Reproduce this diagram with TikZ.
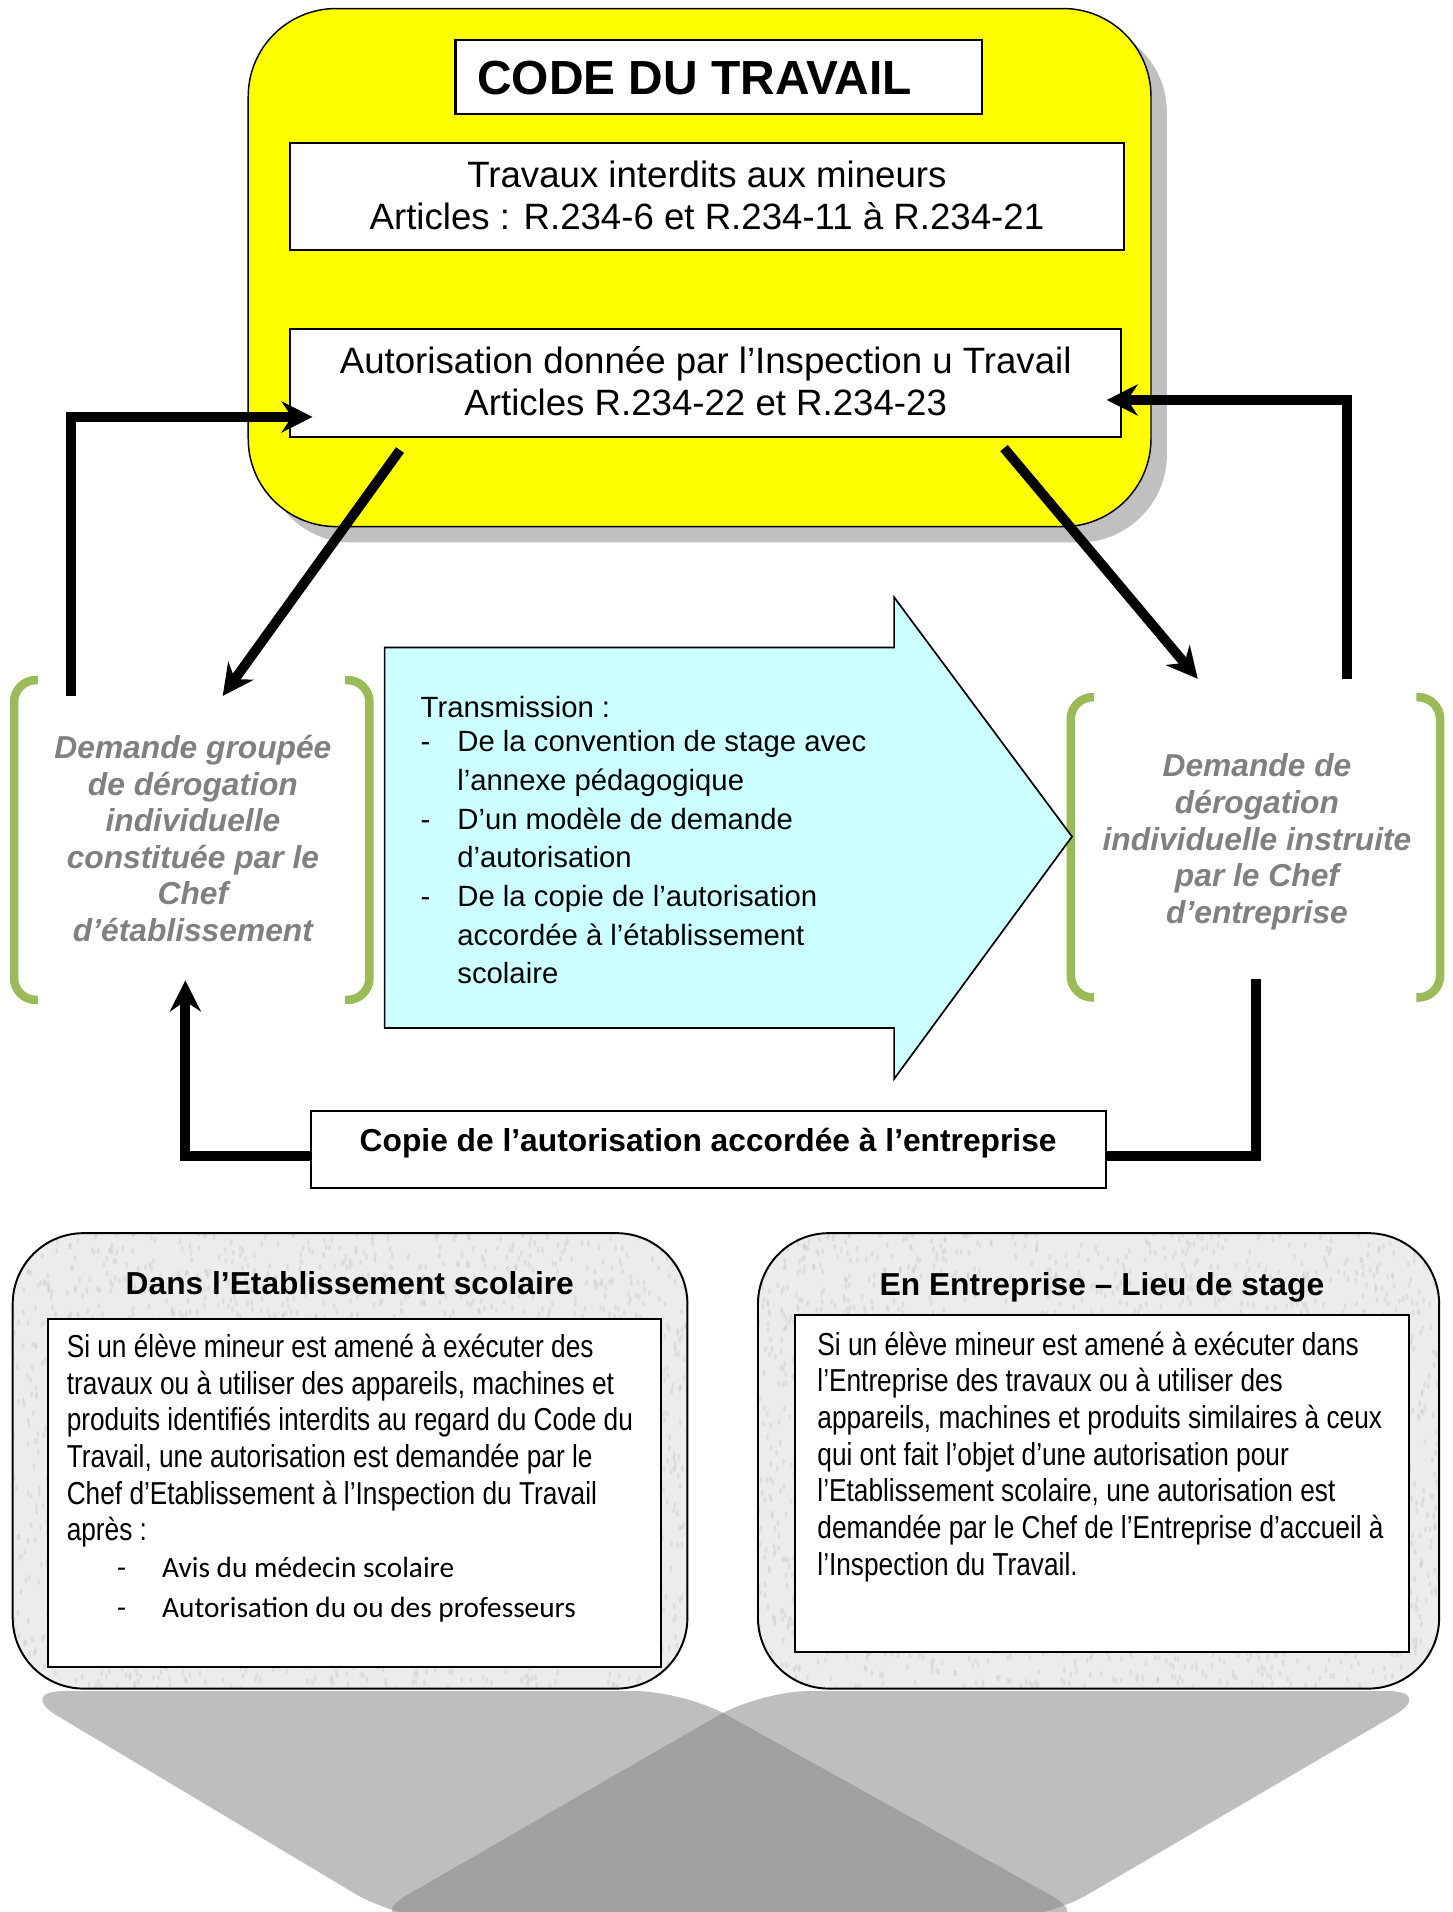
\documentclass[tikz,border=0pt]{standalone}
\usepackage{fontspec}
\setmainfont{Liberation Sans}
\newfontfamily\narrowfont{Liberation Sans}[FakeStretch=0.827]
\newfontfamily\carlfont{Carlito}
\usetikzlibrary{arrows.meta,shadows}
\definecolor{ybox}{RGB}{255,255,0}
\definecolor{shadowgray}{RGB}{192,192,192}
\definecolor{cyanbox}{RGB}{204,255,255}
\definecolor{brgreen}{RGB}{155,187,89}
\definecolor{txtgray}{RGB}{128,128,128}
\definecolor{bandlight}{RGB}{190,190,190}
\definecolor{banddark}{RGB}{160,160,160}
\definecolor{granite}{RGB}{236,236,236}
\definecolor{speck}{RGB}{200,200,200}
\begin{document}
\begin{tikzpicture}[x=0.5pt,y=-0.5pt,
  box/.style={draw=black, line width=0.8pt, fill=white, inner sep=0pt, outer sep=0pt},
  txt/.style={inner sep=0pt, outer sep=0pt},
  conn/.style={line width=4pt, line join=miter},
  tip/.style={-{Stealth[length=12.7pt,width=12.7pt,inset=4.2pt]}},
  bracket/.style={draw=brgreen, line width=3.5pt, rounded corners=9pt},
  graniteBox/.style={fill=granite, rounded corners=29pt, inner sep=0pt, outer sep=0pt},
  graniteEdge/.style={draw=black, line width=0.8pt, rounded corners=29pt},
  graytxt/.style={txt, anchor=base, align=center, text=txtgray, font=\bfseries\itshape\fontsize{13}{15}\selectfont}
]
\useasboundingbox (0,0) rectangle (1190,1566);
\pgfmathsetseed{12345}

% bottom shadow bands
\begin{scope}
  \clip (0,0) rectangle (1190,1566);
  \fill[bandlight, rounded corners=20pt] (13,1385) -- (560,1385) -- (896,1572) -- (326,1572) -- cycle;
  \fill[bandlight, rounded corners=20pt] (623,1385) -- (1176,1385) -- (856,1572) -- (299,1572) -- cycle;
  \clip[rounded corners=20pt] (13,1385) -- (560,1385) -- (896,1572) -- (326,1572) -- cycle;
  \fill[banddark, rounded corners=20pt] (623,1385) -- (1176,1385) -- (856,1572) -- (299,1572) -- cycle;
\end{scope}

% yellow code box
\node[draw=black, line width=0.6pt, fill=ybox, rounded corners=36pt,
  minimum width=369.7pt, minimum height=212.15pt, inner sep=0pt,
  drop shadow={shadow xshift=6.5pt, shadow yshift=-6.5pt, fill=shadowgray, opacity=1}]
  (code) at (573,219.15) {};
\node[box, line width=1pt, minimum width=215.65pt, minimum height=30.4pt] (codebox) at (588.65,63.2) {};
\node[txt, anchor=base west, font=\bfseries\fontsize{19.6}{23}\selectfont] (codetxt) at (391,77.8) {CODE DU TRAVAIL};

\node[box, minimum width=341.55pt, minimum height=43.9pt] (travbox) at (579.15,160.8) {};
\node[txt, anchor=base, align=center, font=\fontsize{15}{17.2}\selectfont] (travtxt) at (579,188)
  {Travaux interdits aux mineurs\\Articles : R.234-6 et R.234-11 à R.234-21};

\node[box, minimum width=340.2pt, minimum height=44.35pt] (autbox) at (577.8,313.95) {};
\node[txt, anchor=base, align=center, font=\fontsize{15}{17.2}\selectfont] (auttxt) at (578,340)
  {Autorisation donnée par l’Inspection u Travail\\Articles R.234-22 et R.234-23};

% green brackets
\draw[bracket] (31,557) -| (11.5,819) -- (31,819);
\draw[bracket] (282.6,557) -| (302.6,819) -- (282.6,819);
\draw[bracket] (896,571) -| (877,817) -- (896,817);
\draw[bracket] (1160,571) -| (1179.5,817) -- (1160,817);

\node[graytxt] (grp) at (158,771.2)
  {Demande groupée\\de dérogation\\individuelle\\constituée par le\\Chef\\d’établissement};
\node[graytxt] (ins) at (1029.5,756.2)
  {Demande de\\dérogation\\individuelle instruite\\par le Chef\\d’entreprise};

% cyan block arrow
\draw[line width=0.7pt, fill=cyanbox] (315,530.4) -- (732.3,530.4) -- (732.3,489.2) -- (878,685.2)
  -- (732.3,883.7) -- (732.3,842) -- (315,842) -- cycle;
\node[txt, anchor=base west, align=left, font=\fontsize{12}{15.86}\selectfont] (trans) at (344.6,805.9)
  {Transmission :\\[-2.06pt]
   \makebox[15pt][l]{-}De la convention de stage avec\\
   \hspace*{15pt}l’annexe pédagogique\\
   \makebox[15pt][l]{-}D’un modèle de demande\\
   \hspace*{15pt}d’autorisation\\
   \makebox[15pt][l]{-}De la copie de l’autorisation\\
   \hspace*{15pt}accordée à l’établissement\\
   \hspace*{15pt}scolaire};

% copie box
\node[box, minimum width=325.25pt, minimum height=31.7pt] (copbox) at (580.25,941.3) {};
\node[txt, anchor=base, font=\bfseries\fontsize{13}{15}\selectfont] (coptxt) at (580,943)
  {Copie de l’autorisation accordée à l’entreprise};

% connectors
\coordinate (c1s) at (58,570);
\coordinate (c1e) at (256,341.5);
\coordinate (c2s) at (1103.5,556);
\coordinate (c2e) at (906.4,327.6);
\coordinate (d1s) at (327.6,368.6);
\coordinate (d1e) at (182.4,570);
\coordinate (d2s) at (822.3,367);
\coordinate (d2e) at (981,556);
\coordinate (b1e) at (151.8,803);
\coordinate (b2e) at (1028.5,802);
\draw[conn,tip] (c1s) |- (c1e);
\draw[conn,tip] (c2s) |- (c2e);
\draw[conn,tip] (d1s) -- (d1e);
\draw[conn,tip] (d2s) -- (d2e);
\draw[conn,tip] ([yshift=-2.85pt]copbox.west) -| (b1e);
\draw[conn] ([yshift=-2.85pt]copbox.east) -| (b2e);

% bottom boxes (granite texture)
\node[graniteBox, minimum width=276.3pt, minimum height=186.5pt] (ecole) at (286.7,1196.5) {};
\node[graniteBox, minimum width=278.95pt, minimum height=186.5pt] (entr) at (899.75,1196.5) {};
\begin{scope}
  \clip[rounded corners=29pt] (ecole.north west) rectangle (ecole.south east);
  \foreach \i in {1,...,2400} {
    \pgfmathsetmacro{\xx}{10.4+552.6*rnd}
    \pgfmathsetmacro{\yy}{1010+373*rnd}
    \fill[speck, opacity=0.4] (\xx,\yy) ellipse (0.6pt and 1.3pt);
  }
\end{scope}
\begin{scope}
  \clip[rounded corners=29pt] (entr.north west) rectangle (entr.south east);
  \foreach \i in {1,...,2400} {
    \pgfmathsetmacro{\xx}{620.3+558*rnd}
    \pgfmathsetmacro{\yy}{1010+373*rnd}
    \fill[speck, opacity=0.4] (\xx,\yy) ellipse (0.6pt and 1.3pt);
  }
\end{scope}
\draw[graniteEdge] (ecole.north west) rectangle (ecole.south east);
\draw[graniteEdge] (entr.north west) rectangle (entr.south east);

\node[box, minimum width=250.85pt, minimum height=142.55pt] (ecolein) at (290.35,1222.75) {};
\node[txt, anchor=base, font=\bfseries\fontsize{13}{15}\selectfont] (ecolet) at (286.5,1060.6)
  {Dans l’Etablissement scolaire};
\node[txt, anchor=base west, align=left, font=\narrowfont\fontsize{13}{15}\selectfont] (ecoletxt) at (54.7,1324.5)
  {Si un élève mineur est amené à exécuter des\\
   travaux ou à utiliser des appareils, machines et\\
   produits identifiés interdits au regard du Code du\\
   Travail, une autorisation est demandée par le\\
   Chef d’Etablissement à l’Inspection du Travail\\
   après :\\
   \hspace*{20.6pt}\makebox[18.5pt][l]{\carlfont\fontsize{12}{15}\selectfont -}{\carlfont\fontsize{12}{15}\selectfont Avis du médecin scolaire}\\[1.25pt]
   \hspace*{20.6pt}\makebox[18.5pt][l]{\carlfont\fontsize{12}{15}\selectfont -}{\carlfont\fontsize{12}{15}\selectfont Autorisation du ou des professeurs}};

\node[box, minimum width=251.2pt, minimum height=137.75pt] (entrin) at (902.5,1214.95) {};
\node[txt, anchor=base, font=\bfseries\fontsize{13}{15}\selectfont] (entrt) at (902.5,1061)
  {En Entreprise – Lieu de stage};
\node[txt, anchor=base west, align=left, font=\narrowfont\fontsize{13}{15}\selectfont] (entrtxt) at (669.5,1290)
  {Si un élève mineur est amené à exécuter dans\\
   l’Entreprise des travaux ou à utiliser des\\
   appareils, machines et produits similaires à ceux\\
   qui ont fait l’objet d’une autorisation pour\\
   l’Etablissement scolaire, une autorisation est\\
   demandée par le Chef de l’Entreprise d’accueil à\\
   l’Inspection du Travail.};
\end{tikzpicture}
\end{document}
